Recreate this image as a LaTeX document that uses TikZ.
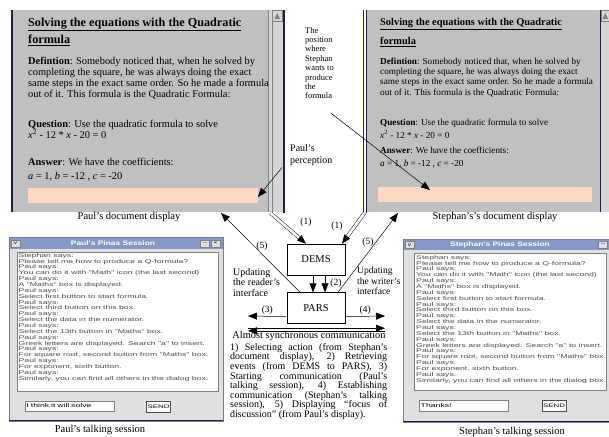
\documentclass[tikz,border=0pt]{standalone}
\usepackage{fontspec}
\setmainfont{Liberation Serif}
\newfontfamily\chatfont[FakeStretch=1.58]{Liberation Sans}
\newfontfamily\barfont[FakeStretch=1.3]{Liberation Sans}
\usetikzlibrary{positioning,arrows.meta}

\definecolor{docgray}{RGB}{192,192,192}
\definecolor{scrollgray}{RGB}{214,214,214}
\definecolor{peach}{RGB}{255,218,193}
\definecolor{navy}{RGB}{30,34,74}
\definecolor{framegray}{RGB}{224,224,224}
\definecolor{barblue}{RGB}{132,153,198}

\newcommand{\chatlog}{%
Stephan says:\\
Please tell me how to produce a Q-formula?\\
Paul says:\\
You can do it with "Math" icon (the last second)\\
Paul says:\\
A "Maths" box is displayed.\\
Paul says:\\
Select first button to start formula.\\
Paul says:\\
Select third button on this box.\\
Paul says:\\
Select the data in the numerator.\\
Paul says:\\
Select the 13th button in "Maths" box.\\
Paul says:\\
Greek letters are displayed. Search "a" to insert.\\
Paul says:\\
For square root, second button from "Maths" box.\\
Paul says:\\
For exponent, sixth button.\\
Paul says:\\
Similarly, you can find all others in the dialog box.}

\tikzset{
  docline/.style={anchor=base west, inner sep=0pt, font=\fontsize{#1}{12}\selectfont},
  doctitle/.style={anchor=base west, inner sep=0pt, font=\bfseries\fontsize{#1}{12}\selectfont},
  box/.style={draw, line width=0.6pt, minimum width=58pt, minimum height=31pt, inner sep=0pt, font=\fontsize{10.5}{12}\selectfont},
  lbl/.style={inner sep=0pt, font=\fontsize{9.5}{11}\selectfont},
  note/.style={anchor=north west, inner sep=0pt, align=left},
  caption/.style={inner sep=0pt, font=\fontsize{10.5}{12}\selectfont},
  arr/.style={-{Triangle[length=9pt,width=7pt]}, line width=0.5pt},
  dblarr/.style={arr, double, double distance=2.6pt, line width=0.45pt},
  chatwin/.style={draw=navy!60, fill=framegray, line width=0.5pt},
  bartitle/.style={inner sep=0pt, text=white, font=\barfont\bfseries\fontsize{6.5}{7}\selectfont},
  barbtn/.style={draw=gray, fill=framegray, line width=0.3pt, minimum width=9pt, minimum height=7pt, inner sep=0pt, font=\barfont\fontsize{5}{5}\selectfont},
  chatlog/.style={anchor=north west, inner sep=0pt, align=left, text=black!70, font=\chatfont\fontsize{5.5}{5.86}\selectfont},
  chatin/.style={draw=gray, fill=white, line width=0.4pt, anchor=west, text width=86pt, align=left, minimum height=10.5pt, inner sep=1.5pt, font=\chatfont\fontsize{5.5}{6}\selectfont},
  sendbtn/.style={draw=black!70, fill=white, line width=0.5pt, minimum width=23pt, minimum height=11pt, inner sep=1pt, font=\chatfont\fontsize{5}{6}\selectfont}
}

\begin{document}
\begin{tikzpicture}[x=1pt, y=-1pt]
  \useasboundingbox (0,0) rectangle (609,436);

  % Document displays
  \fill[docgray] (12,10) rectangle (268,212);
  \fill[scrollgray] (268,10) rectangle (283,212);
  \draw[gray, line width=0.4pt] (268.5,10) -- (268.5,212) (272.5,10) -- (272.5,212);
  \draw[gray, fill=scrollgray, line width=0.4pt] (272.5,10.5) rectangle (282,21);
  \fill[gray] (274.5,19) -- (277.2,13) -- (280,19) -- cycle;
  \draw[navy, line width=1.6pt] (12,10) -- (12,212);
  \draw[navy, line width=1.2pt] (284,10) -- (284,213);
  \draw[navy, line width=0.8pt] (363.5,10) -- (363.5,213) (366.3,10) -- (366.3,213);
  \fill[docgray] (367,10) rectangle (600,212);
  \fill[scrollgray] (600,10) rectangle (609,212);
  \draw[navy, line width=1pt] (600,10) -- (600,212);
  \draw[gray, fill=scrollgray, line width=0.4pt] (601.5,10.5) rectangle (609,21);
  \fill[gray] (602.5,19) -- (605.3,13) -- (608,19) -- cycle;
  \fill[peach] (28,188) rectangle (258,203);
  \fill[peach] (378,187) rectangle (592,202);

  % Paul's page
  \node[doctitle=12.2] (ptitle) at (28,26.5) {\underline{Solving the equations with the Quadratic}};
  \node[doctitle=12.2] (pform) at (28,44) {\underline{formula}};
  \node[docline=10.4] (pdef1) at (28,64.5) {\textbf{Defintion}: Somebody noticed that, when he solved by};
  \node[docline=10.4] (pdef2) at (28,75.5) {completing the square, he was always doing the exact};
  \node[docline=10.4] (pdef3) at (28,86.5) {same steps in the exact same order. So he made a formula};
  \node[docline=10.4] (pdef4) at (28,97.5) {out of it. This formula is the Quadratic Formula:};
  \node[docline=10.4] (pques) at (28,127.5) {\textbf{Question}: Use the quadratic formula to solve};
  \node[docline=10.4] (peqn) at (28,138.5) {\textit{x}\textsuperscript{2} - 12 * \textit{x} - 20 = 0};
  \node[docline=10.4] (pans) at (28,165) {\textbf{Answer}: We have the coefficients:};
  \node[docline=10.4] (pcoef) at (28,179) {\textit{a} = 1, \textit{b} = -12 , \textit{c} = -20};

  % Stephan's page
  \node[doctitle=10.4] (stitle) at (380,26) {\underline{Solving the equations with the Quadratic}};
  \node[doctitle=10.4] (sform) at (380,45) {\underline{formula}};
  \node[docline=9.2] (sdef1) at (380,64.5) {\textbf{Defintion}: Somebody noticed that, when he solved by};
  \node[docline=9.2] (sdef2) at (380,74.5) {completing the square, he was always doing the exact};
  \node[docline=9.2] (sdef3) at (380,84.5) {same steps in the exact same order. So he made a formula};
  \node[docline=9.2] (sdef4) at (380,95) {out of it. This formula is the Quadratic Formula:};
  \node[docline=9.2] (sques) at (380,125.5) {\textbf{Question}: Use the quadratic formula to solve};
  \node[docline=9.2] (seqn) at (380,138.5) {\textit{x}\textsuperscript{2} - 12 * \textit{x} - 20 = 0};
  \node[docline=9.2] (sans) at (380,153.5) {\textbf{Answer}: We have the coefficients:};
  \node[docline=9.2] (scoef) at (380,166.5) {\textit{a} = 1, \textit{b} = -12 , \textit{c} = -20};

  \node[caption] (pcap) at (129,217) {Paul's document display};
  \node[caption] (scap) at (495,217) {Stephan's's document display};

  % Notes
  \node[note, font=\fontsize{8.5}{9.4}\selectfont] (where) at (305,27) {The\\position\\where\\Stephan\\wants to\\produce\\the\\formula};
  \node[note, font=\fontsize{10}{12}\selectfont] (perc) at (290,144) {Paul's\\perception};
  \coordinate (ppink) at (258,197);
  \coordinate (spink) at (430,190);
  \draw[arr] ([xshift=-3pt,yshift=-14pt]where.south east) -- (spink);
  \draw[arr] ([xshift=-8pt,yshift=-2pt]perc.south west) -- (ppink);

  % DEMS and PARS
  \node[box] (dems) at (316,259.5) {DEMS};
  \node[box, below=17pt of dems] (pars) {PARS};

  \node[note, font=\fontsize{10}{10.5}\selectfont] (rdupd) at (233,268) {Updating\\the reader's\\interface};
  \node[note, font=\fontsize{9.5}{10.5}\selectfont] (wrupd) at (357,267) {Updating\\the writer's\\interface};

  % Connect the nodes
  \coordinate (pdocfoot) at (270.5,213);
  \coordinate (sdocfoot) at (364.5,213);
  \coordinate (pdocbot) at (221,213);
  \coordinate (sdocbot) at (398,213);
  \coordinate (talkL) at (248,316);
  \coordinate (talkR) at (385,316);
  \coordinate (syncL) at (248,329.5);
  \coordinate (syncR) at (385,329.5);

  \draw[dblarr] (pdocfoot) -- ([xshift=-10pt]dems.north);
  \draw[dblarr] (sdocfoot) -- ([xshift=26pt]dems.north);
  \node[lbl] (one1) at (306,222) {(1)};
  \node[lbl] (one2) at (337,226) {(1)};

  \draw[arr] ([xshift=-3pt]dems.south) -- ([xshift=-3pt]pars.north);
  \draw[arr] ([xshift=9pt]dems.south) -- ([xshift=9pt]pars.north);
  \node[lbl] (two) at (336,283) {(2)};

  \draw[arr] ([xshift=-16pt]pars.north) -- (pdocbot);
  \draw[arr] ([xshift=22pt]pars.north) -- (sdocbot);
  \node[lbl] (five1) at (262,246) {(5)};
  \node[lbl] (five2) at (368,242) {(5)};

  \draw[arr] ([yshift=-8.5pt]pars.west) -- (talkL) node[lbl, midway, above=2pt] (three) {(3)};
  \draw[arr] ([yshift=-8.5pt]pars.east) -- (talkR) node[lbl, midway, above=2pt] (four) {(4)};

  \draw[arr] ([yshift=1.3pt]syncL) -- ([yshift=1.3pt]syncR);
  \draw[arr] ([yshift=-1.3pt]syncR) -- ([yshift=-1.3pt]syncL);
  \node[inner sep=0pt, font=\fontsize{10.4}{12}\selectfont] (sync) at (309,336.5) {Almost synchronous communication};

  \node[note, text width=157pt, align=justify, font=\fontsize{10}{9.6}\selectfont] (steps) at (230,343) {1) Selecting action (from Stephan's\linebreak
    document display), 2) Retrieving\linebreak
    events (from DEMS to PARS), 3)\linebreak
    Starting communication (Paul's\linebreak
    talking session), 4) Establishing\linebreak
    communication (Stephan's talking\linebreak
    session), 5) Displaying ``focus of\linebreak
    discussion'' (from Paul's display).};

  % Talking sessions
  \draw[chatwin] (9,237) rectangle (223,421);
  \fill[barblue] (9.5,237.5) rectangle (222.5,249);
  \node[bartitle] (pbar) at (113,243.3) {Paul's Pinas Session};
  \node[barbtn] (pmenu) at (15.5,243.3) {v};
  \node[barbtn] (pmin) at (205,243.3) {--};
  \node[barbtn] (pclose) at (215.5,243.3) {×};
  \draw[gray, fill=white, line width=0.4pt] (17,252) rectangle (218,391);
  \node[chatlog] (plog) at (18.5,253) {\chatlog};
  \node[chatin] (pinput) at (25,406) {I think it will solve};
  \node[sendbtn] (psend) at (158.5,406.5) {SEND};
  \draw[navy, line width=1.4pt] (9,420.5) -- (223,420.5);
  \node[caption] (pcapt) at (100,430) {Paul's talking session};

  \draw[chatwin] (403,239) rectangle (611,422);
  \fill[barblue] (403.5,239.5) rectangle (609,250);
  \node[bartitle] (sbar) at (500,244.8) {Stephan's Pinas Session};
  \node[barbtn] (smenu) at (409.5,244.8) {v};
  \node[barbtn] (smin) at (603,244.8) {--};
  \draw[gray, fill=white, line width=0.4pt] (414,253) rectangle (606,390);
  \node[chatlog] (slog) at (416,255) {\chatlog};
  \node[chatin] (sinput) at (419,405.5) {Thanks!};
  \node[sendbtn] (ssend) at (554,406) {SEND};
  \draw[navy, line width=1.4pt] (403,421.5) -- (609,421.5);
  \node[caption] (scapt) at (512,432) {Stephan's talking session};
\end{tikzpicture}
\end{document}
